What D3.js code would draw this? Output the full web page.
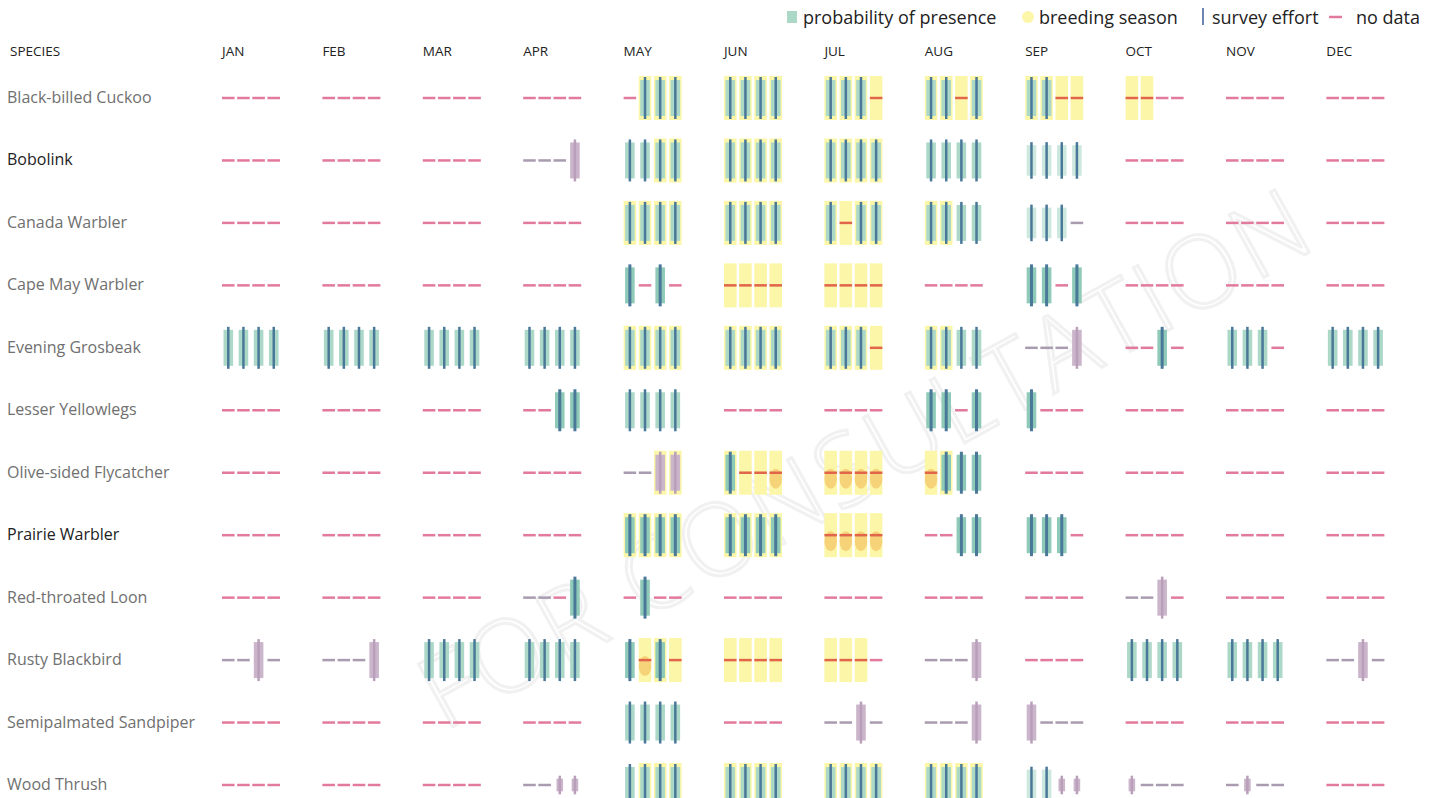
<!DOCTYPE html>
<html>
<head>
<meta charset="utf-8">
<script src="https://cdnjs.cloudflare.com/ajax/libs/d3/7.8.5/d3.min.js"></script>
<style>
  body { margin: 0; background: #fff; }
  text { font-family: 'Open Sans', sans-serif; }
</style>
</head>
<body>
<script>
const months = ['JAN', 'FEB', 'MAR', 'APR', 'MAY', 'JUN', 'JUL', 'AUG', 'SEP', 'OCT', 'NOV', 'DEC'];

const species = [
  'Black-billed Cuckoo', 'Bobolink', 'Canada Warbler', 'Cape May Warbler',
  'Evening Grosbeak', 'Lesser Yellowlegs', 'Olive-sided Flycatcher', 'Prairie Warbler',
  'Red-throated Loon', 'Rusty Blackbird', 'Semipalmated Sandpiper', 'Wood Thrush'
];

// darker label for a couple of rows
const boldSpecies = ['Bobolink', 'Prairie Warbler'];

// one char per week, months split by '|'
// - no data, ~ low effort dash, P presence, Q weak presence, D strong presence,
// v presence (few surveys), s survey only, o breeding blob
const weekCodes = [
  '----|----|----|----|-PPP|PPPP|PPP-|PP-P|PP--|----|----|----',
  '----|----|----|~~~v|PPPP|PPPP|PPPP|PPPP|QQQQ|----|----|----',
  '----|----|----|----|PPPP|PPPP|P-PP|PPPP|QQQ~|----|----|----',
  '----|----|----|----|D-D-|----|----|----|DD-D|----|----|----',
  'PPPP|PPPP|PPPP|PPPP|PPPP|PPPP|PPP-|PPPP|~~~v|--D-|PPP-|PPPP',
  '----|----|----|--DD|PPPP|----|----|DD-D|D---|----|----|----',
  '----|----|----|----|~~vv|D--o|oooo|oDDD|----|----|----|----',
  '----|----|----|----|DDDD|DDDD|oooo|--DD|DDD-|----|----|----',
  '----|----|----|~~-D|-D--|----|----|----|----|~~v-|----|----',
  '~~v~|~~~v|PPPP|PPPP|DoD-|----|----|~~~v|----|PPPP|PPPP|~~v~',
  '----|----|----|----|PPPP|----|~~v~|~~~v|v~~~|----|----|----',
  '----|----|----|~~ss|PPPP|PPPP|PPPP|PPPP|QQss|s~~~|~s~~|----'
];

// y = breeding season week
const breeding = [
  '....|....|....|....|.yyy|yyyy|yyyy|yyyy|yyyy|yy..|....|....',
  '....|....|....|....|..yy|yyyy|yyyy|....|....|....|....|....',
  '....|....|....|....|yyyy|yyyy|yyyy|yy..|....|....|....|....',
  '....|....|....|....|....|yyyy|yyyy|....|....|....|....|....',
  '....|....|....|....|yyyy|yyyy|yyyy|yy..|....|....|....|....',
  '....|....|....|....|....|....|....|....|....|....|....|....',
  '....|....|....|....|..yy|yyyy|yyyy|yy..|....|....|....|....',
  '....|....|....|....|yyyy|yyyy|yyyy|....|....|....|....|....',
  '....|....|....|....|....|....|....|....|....|....|....|....',
  '....|....|....|....|.yyy|yyyy|yyy.|....|....|....|....|....',
  '....|....|....|....|....|....|....|....|....|....|....|....',
  '....|....|....|....|.yyy|yyyy|yyyy|yyyy|....|....|....|....'
];

// presence value per code (drives bar height)
const codeValue = { P: 1, Q: 0.85, D: 1, v: 1, s: 0.35, o: 0 };

const legendItems = ['probability of presence', 'breeding season', 'survey effort', 'no data'];

const width = 1439;
const height = 798;

const svg = d3.select('body').append('svg')
  .attr('width', width)
  .attr('height', height);

// watermark
svg.append('text')
  .attr('transform', 'translate(870,465) rotate(-29)')
  .attr('text-anchor', 'middle')
  .attr('dominant-baseline', 'middle')
  .attr('font-size', 100)
  .attr('font-weight', 300)
  .attr('fill', 'none')
  .attr('stroke', '#f1f1f1')
  .attr('stroke-width', 3)
  .attr('letter-spacing', 4)
  .text('FOR CONSULTATION');

// scales
let xMonth = d3.scaleBand()
  .domain(months)
  .range([222, 1384.4])
  .paddingInner(0.422);

let xWeek = d3.scaleBand()
  .domain([0, 1, 2, 3])
  .range([0, xMonth.bandwidth()])
  .paddingInner(0.17);

let yRow = d3.scalePoint()
  .domain(species)
  .range([98, 785]);

let barH = d3.scaleLinear().domain([0, 1]).range([0, 18]);

// header
svg.append('text')
  .attr('x', 10).attr('y', 56)
  .attr('font-size', 13.5).attr('fill', '#222')
  .text('SPECIES');

svg.selectAll('.month')
  .data(months)
  .enter().append('text')
  .attr('class', 'month')
  .attr('x', (d) => xMonth(d))
  .attr('y', 56)
  .attr('font-size', 13.5)
  .attr('fill', '#222')
  .text((d) => d);

// species labels
svg.selectAll('.species')
  .data(species)
  .enter().append('text')
  .attr('class', 'species')
  .attr('x', 7)
  .attr('y', (d) => yRow(d) + 5)
  .attr('font-size', 16)
  .attr('fill', (d) => boldSpecies.indexOf(d) >= 0 ? '#222' : '#707070')
  .text((d) => d);

// flatten codes into cells
let cells = [];
species.forEach((name, i) => {
  let codes = weekCodes[i].replace(/\|/g, '');
  let breed = breeding[i].replace(/\|/g, '');
  for (let k = 0; k < 48; k++) {
    cells.push({
      species: name,
      month: months[Math.floor(k / 4)],
      week: k % 4,
      code: codes[k],
      breeding: breed[k] === 'y'
    });
  }
});

let bw = xWeek.bandwidth();
let cellX = (d) => xMonth(d.month) + xWeek(d.week);
let cellCx = (d) => cellX(d) + bw / 2;

let grid = svg.append('g');

// breeding season background
grid.selectAll('.breed')
  .data(cells.filter((d) => d.breeding))
  .enter().append('rect')
  .attr('x', (d) => cellX(d))
  .attr('y', (d) => yRow(d.species) - 22)
  .attr('width', bw)
  .attr('height', 44)
  .attr('fill', '#fcf7a8');

// orange blobs inside breeding season
grid.selectAll('.blob')
  .data(cells.filter((d) => d.code === 'o'))
  .enter().append('ellipse')
  .attr('cx', (d) => cellCx(d))
  .attr('cy', (d) => yRow(d.species) + 6)
  .attr('rx', bw / 2)
  .attr('ry', 10)
  .attr('fill', '#f0a640')
  .attr('opacity', 0.45);

// dashes: no data / low effort
grid.selectAll('.dash')
  .data(cells.filter((d) => d.code === '-' || d.code === '~' || d.code === 'o'))
  .enter().append('line')
  .attr('x1', (d) => cellX(d))
  .attr('x2', (d) => cellX(d) + bw)
  .attr('y1', (d) => yRow(d.species))
  .attr('y2', (d) => yRow(d.species))
  .attr('stroke', (d) => {
    if (d.code === '~') return '#a99bb0';
    return d.breeding ? '#e0654a' : '#e27a9b';
  })
  .attr('stroke-width', 2.5);

// presence bars
let barCells = cells.filter((d) => codeValue[d.code] > 0);

grid.selectAll('.bar')
  .data(barCells)
  .enter().append('rect')
  .attr('x', (d) => d.code === 's' ? cellX(d) + 3 : cellX(d) + 1.5)
  .attr('y', (d) => yRow(d.species) - barH(codeValue[d.code]))
  .attr('width', (d) => d.code === 's' ? bw - 6 : bw - 3)
  .attr('height', (d) => 2 * barH(codeValue[d.code]))
  .attr('fill', (d) => {
    if (d.code === 'v' || d.code === 's') return '#cbb5cb';
    if (d.code === 'D') return '#8fcab8';
    return '#acd8c8';
  })
  .attr('opacity', (d) => d.code === 'Q' ? 0.6 : 1);

// survey effort lines
grid.selectAll('.survey')
  .data(barCells)
  .enter().append('line')
  .attr('x1', (d) => cellCx(d))
  .attr('x2', (d) => cellCx(d))
  .attr('y1', (d) => yRow(d.species) - barH(codeValue[d.code]) - 3)
  .attr('y2', (d) => yRow(d.species) + barH(codeValue[d.code]) + 3)
  .attr('stroke', (d) => (d.code === 'v' || d.code === 's') ? '#b99fba' : '#4a7898')
  .attr('stroke-width', (d) => d.code === 'D' ? 3 : 2.5);

// legend
let legend = svg.append('g');
legend.append('rect')
  .attr('x', 787).attr('y', 11).attr('width', 10).attr('height', 12)
  .attr('fill', '#acd8c8');
legend.append('ellipse')
  .attr('cx', 1028).attr('cy', 17).attr('rx', 6).attr('ry', 6)
  .attr('fill', '#fcf7a8');
legend.append('line')
  .attr('x1', 1203).attr('x2', 1203).attr('y1', 8).attr('y2', 25)
  .attr('stroke', '#6d86b4').attr('stroke-width', 2);
legend.append('line')
  .attr('x1', 1329).attr('x2', 1342).attr('y1', 17).attr('y2', 17)
  .attr('stroke', '#e27a9b').attr('stroke-width', 2.5);

let legendX = [803, 1039, 1212, 1356];
legend.selectAll('.legend-label')
  .data(legendItems)
  .enter().append('text')
  .attr('x', (d, i) => legendX[i])
  .attr('y', 24)
  .attr('font-size', 18)
  .attr('fill', '#222')
  .text((d) => d);
</script>
</body>
</html>
